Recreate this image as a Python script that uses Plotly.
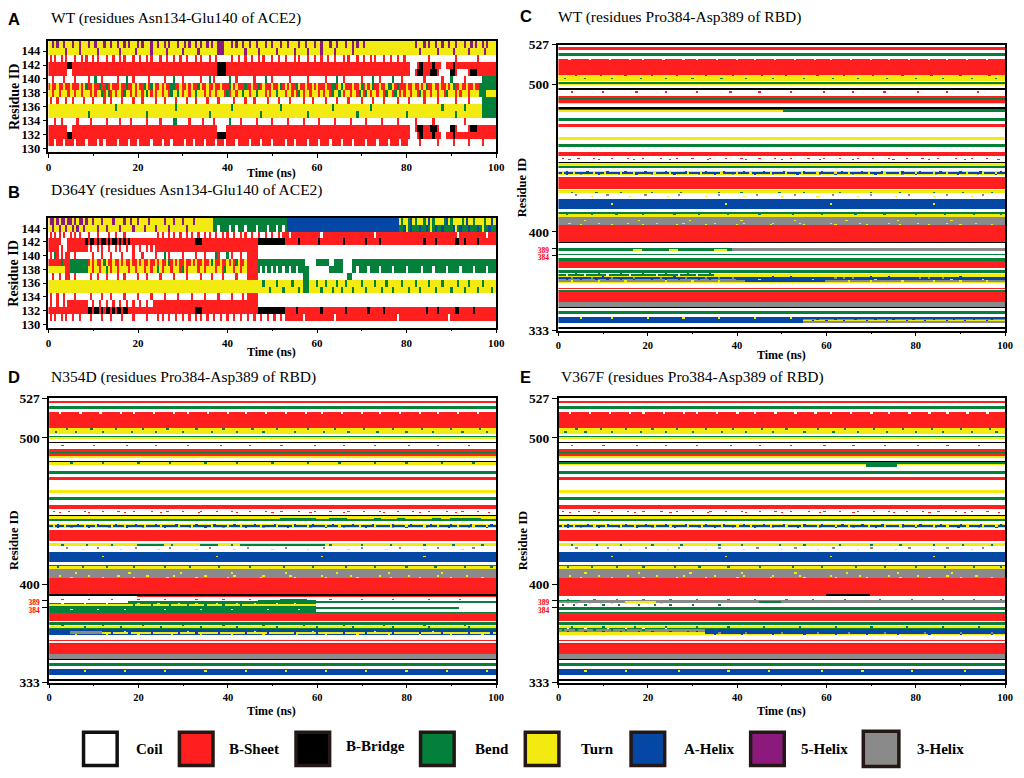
import numpy as np
import plotly.graph_objects as go

# ---------------- categories / colours ----------------
STATES = ["Coil", "B-Sheet", "B-Bridge", "Bend", "Turn", "A-Helix", "5-Helix", "3-Helix"]
CODES = ["C", "E", "B", "S", "T", "H", "I", "G"]
COLORS = ["#FFFFFF", "#FF1F1F", "#000000", "#03803A", "#F3EA12", "#0547A5", "#8C1A7C", "#8A8A8A"]

# simulation frames (ns)
time_ns = np.round(np.arange(0, 100.001, 0.5), 1)

# ---------------- Panel A : WT, ACE2 residues 130-145 ----------------
a_bands = [(130, 130, "C"), (131, 131, "C"), (132, 133, "E"), (134, 134, "C"), (135, 136, "T"),
           (137, 137, "C"), (138, 138, "T"), (139, 139, "E"), (140, 140, "C"), (141, 142, "E"),
           (143, 143, "C"), (144, 145, "T")]
a_segments = [
    (145, 38, 39.5, "I"), (144, 38, 39.5, "I"),
    (142, 4.5, 5.5, "B"), (142, 38, 40, "B"), (142, 81, 82.5, "C"), (142, 83, 84, "B"),
    (142, 86, 86.5, "B"), (142, 88, 89, "C"), (142, 90.5, 91, "B"),
    (141, 4.5, 5.5, "C"), (141, 38, 40, "B"), (141, 81, 82, "C"), (141, 82.5, 84, "B"),
    (141, 85.5, 87, "B"), (141, 87.5, 90, "C"), (141, 90, 91, "B"), (141, 91.5, 94, "C"), (141, 94.5, 96, "B"),
    (140, 97, 100, "S"), (139, 96.5, 100, "S"), (138, 96.5, 98, "S"), (138, 98, 100, "T"),
    (137, 97, 100, "S"), (136, 97, 100, "S"), (135, 97, 100, "S"),
    (133, 4.5, 5.5, "C"), (133, 38, 40, "C"), (133, 81, 82, "C"), (133, 82.5, 84, "B"),
    (133, 85.5, 87, "B"), (133, 87.5, 90, "C"), (133, 90, 91, "B"), (133, 91.5, 94, "C"), (133, 94.5, 96, "B"),
    (132, 4.5, 5.5, "B"), (132, 38, 40, "B"), (132, 81, 82.5, "C"), (132, 83, 84, "B"),
    (132, 86, 86.5, "B"), (132, 88, 89, "C"), (132, 90.5, 91, "B"),
    (131, 0, 80.5, "E"),
]
a_flecks = [
    (145, "I", [1, 2, 3.5, 5.5, 7, 9, 10.5, 12.5, 14, 15.5, 17, 18, 20, 21, 23, 24.5, 26, 27, 29, 30.5,
                31.5, 33, 34, 35.5, 36.5, 41, 42, 43.5, 45, 46.5, 48.5, 50, 52, 53.5, 56, 57.5, 59.5,
                61, 63, 64.5, 66.5, 68, 69, 70.5, 82, 84, 85, 86.5, 88, 89.5, 91, 93, 94.5, 95.5,
                97, 98]),
    (144, "I", [4, 7, 11, 16, 19.5, 23, 26.5, 30, 33.5, 44, 47, 51, 55, 58, 61, 64, 68, 83, 87, 90.5,
                94, 97.5]),
    (143, "E", [0.5, 1.5, 3, 4, 6, 7.5, 8.5, 10, 11, 13, 14.5, 16, 17, 19, 20.5, 22, 23, 25, 26.5, 28,
                29.5, 31, 33, 34, 36, 37.5, 41, 42.5, 44, 45.5, 47, 48, 50, 51.5, 53, 55, 56, 58, 59.5,
                61, 62.5, 64, 66, 67, 69, 70.5, 72, 73, 75, 76.5, 78, 79.5, 85, 91, 96]),
    (140, "E", [1, 3.5, 6, 9, 12, 15.5, 19, 22.5, 26, 30, 34, 37, 42, 46, 50, 54, 58, 62, 66, 70, 74,
                79, 84, 88, 93]),
    (140, "S", [10.5, 17.5, 28, 36, 40.5, 48.5, 64.5, 72.5, 77, 90]),
    (139, "T", [0.5, 2, 3.5, 5, 7, 8, 10, 11.5, 13, 14, 16, 17.5, 19, 20, 22, 23.5, 25, 26, 28, 29.5,
                31, 32, 34, 35.5, 37, 38.5, 41, 42, 44, 45.5, 47, 48, 50, 51.5, 53, 54, 56, 57.5, 59,
                60, 62, 63.5, 65, 66, 68, 69.5, 71, 72, 74, 75.5, 77, 78, 80, 81.5, 83, 84, 86, 87.5,
                89, 90, 92, 93.5, 95]),
    (139, "S", [8.5, 11.5, 13, 17.5, 21.5, 23, 27.5, 28, 33.5, 40.5, 44, 47, 52, 55.5, 63.5, 64, 65.5,
                70, 72.5, 76, 76.5, 78, 84.5, 90.5]),
    (138, "E", [1, 2.5, 4.5, 6, 7.5, 9.5, 10.5, 12.5, 14, 15, 16.5, 18.5, 19.5, 21, 23, 24, 25.5, 27,
                29, 30, 31.5, 33, 35, 36, 37.5, 39.5, 40.5, 42, 43.5, 45, 46.5, 48.5, 49.5, 51, 53,
                54.5, 55.5, 57, 58.5, 60.5, 61.5, 63, 66, 67.5, 69, 70.5, 72, 73.5, 75, 77, 78.5,
                79.5, 81, 82.5, 84, 85.5, 87, 88.5, 91, 92, 94]),
    (138, "S", [12, 13.5, 17, 22, 27.5, 29, 33, 40, 43.5, 46.5, 51, 56, 63.5, 65, 69.5, 71, 75.5,
                77.5, 83, 89]),
    (137, "E", [0.5, 2, 4, 5.5, 8, 10, 12.5, 14, 16.5, 19, 21, 24, 26, 28.5, 31, 33, 35.5, 38, 41.5,
                44, 46, 49, 51.5, 54, 57, 59, 62, 64.5, 67, 70, 72.5, 75, 78, 80.5, 84, 87, 91, 94]),
    (136, "S", [15, 28.5, 41, 52, 63.5, 72, 88, 93]),
    (135, "S", [9, 22, 36, 47.5, 58, 69, 80, 91]),
    (134, "E", [1.5, 3, 6.5, 9.5, 13, 16, 18.5, 22, 25, 31.5, 34.5, 37, 43, 46.5, 50, 53.5, 57, 60.5,
                64, 67.5, 71, 74.5, 78, 82, 86, 93]),
    (134, "S", [28, 28.5, 40.5]),
    (131, "C", [1.5, 3.5, 6, 8.5, 11, 12.5, 15.5, 18, 20, 23, 25.5, 27.5, 30.5, 32.5, 35, 37.5, 39.5,
                42, 45, 47.5, 50, 53, 55, 58, 60.5, 63, 65.5, 68, 71, 73.5, 76, 78.5]),
    (131, "E", [83, 87, 90.5, 94, 97]),
]

# ---------------- Panel B : D364Y, ACE2 residues 130-145 ----------------
b_bands = a_bands
b_segments = [
    (145, 37, 53.5, "S"), (145, 53.5, 78.5, "H"), (145, 78.5, 100, "T"),
    (144, 37, 53.5, "S"), (144, 53.5, 78.5, "H"), (144, 78.5, 100, "S"),
    (143, 53, 100, "E"),
    (142, 3, 4.5, "C"), (142, 33, 34.5, "B"), (142, 47, 53, "B"),
    (141, 2.5, 4.5, "C"), (141, 9, 24, "C"), (141, 47, 100, "C"),
    (140, 4, 5, "E"), (140, 44.5, 47, "E"),
    (139, 5, 9, "S"), (139, 47, 57.5, "S"), (139, 57.5, 60, "C"), (139, 60, 63, "S"),
    (139, 63, 64, "C"), (139, 64, 66, "S"), (139, 66, 68, "C"), (139, 68, 100, "S"),
    (138, 4, 5, "E"), (138, 5, 9, "S"), (138, 44.5, 47, "E"), (138, 47, 100, "S"),
    (138, 58.5, 63, "C"), (138, 66, 68, "C"),
    (137, 4, 5, "E"), (137, 44.5, 47, "E"), (137, 57, 58.5, "S"), (137, 67, 68, "S"),
    (136, 57, 58.5, "S"), (135, 57, 58.5, "S"),
    (134, 44.5, 47, "E"),
    (133, 0, 4.5, "C"), (133, 9, 24, "C"), (133, 47, 100, "C"),
    (132, 33, 34.5, "B"), (132, 47, 53, "B"),
    (131, 53, 100, "E"),
]
b_flecks = [
    (145, "I", [0.5, 1, 2, 3, 3.5, 4.5, 5, 6, 7, 7.5, 8.5, 10, 12, 14.5, 17, 18.5, 20, 22.5, 26, 28,
                30, 32.5]),
    (144, "I", [1, 2.5, 4, 5.5, 6.5, 8, 11, 13, 16, 19, 21.5, 24, 27, 31]),
    (144, "C", [38, 40.5, 42, 44, 46.5, 49, 51, 52.5]),
    (145, "S", [79, 80.5, 82, 84, 86, 88.5, 90, 92.5, 95, 97.5]),
    (145, "H", [81, 85, 89, 93.5, 99]),
    (144, "H", [79.5, 81, 83, 84.5, 86.5, 88, 90.5, 92, 94, 96, 98.5]),
    (144, "T", [80, 85.5, 91, 97]),
    (143, "E", [0.5, 1.5, 2.5, 3.5, 5, 6, 7, 9, 11, 13.5, 15, 17, 24.5, 25.5, 27, 28, 29.5, 31, 32,
                33.5, 35, 36, 37.5, 39, 40, 41.5, 43, 44, 45.5, 47, 48.5, 50, 51.5, 52.5]),
    (143, "C", [54, 61, 73, 91.5, 98]),
    (142, "B", [8.5, 9.5, 10, 11, 12, 12.5, 13.5, 14.5, 15, 16, 17, 18, 56, 60.5, 66, 71, 74, 84,
                86.5, 91, 91.5, 93, 96]),
    (141, "E", [0.5, 1.5, 3, 9.5, 11, 12, 13.5, 15, 16, 17.5, 19, 20.5, 22, 23]),
    (140, "E", [0.5, 2, 3, 6, 10, 12, 14, 16.5, 19, 21, 24, 27, 30, 33, 35, 38, 41, 43]),
    (140, "S", [1.5, 26, 37.5, 40]),
    (139, "T", [9.5, 10.5, 12, 13, 14.5, 16, 17, 18.5, 20, 21, 22.5, 24, 25, 26.5, 28, 29, 30.5, 32,
                33, 34.5, 36, 37, 38.5, 40, 41, 42.5, 44]),
    (139, "S", [3, 12.5, 27, 36.5, 42]),
    (138, "E", [10, 11.5, 14, 15.5, 18, 19.5, 21.5, 23, 25.5, 27.5, 29.5, 31, 33.5, 35, 37.5, 39,
                41.5, 43]),
    (138, "S", [13, 24.5, 30, 39.5]),
    (138, "C", [47.5, 48.5, 50, 51, 52.5, 54, 55.5, 69, 71.5, 74, 77, 80, 83.5, 86, 89, 92, 95, 98]),
    (137, "E", [1, 2.5, 6, 9.5, 11, 13, 15.5, 17, 20, 22, 25, 28, 31, 34, 36.5, 39, 42]),
    (136, "S", [48, 51, 54.5, 60, 62, 64.5, 66.5, 70, 73, 75.5, 79, 82, 85, 88, 91.5, 94, 97]),
    (135, "S", [49.5, 52.5, 56, 61, 63.5, 65.5, 68, 71, 74.5, 77, 80.5, 83, 86.5, 90, 93, 96, 99]),
    (134, "E", [0.5, 2, 3.5, 6, 9.5, 12, 14, 17, 20, 23, 26, 29, 32, 35, 38, 41, 43.5]),
    (133, "E", [0.5, 2, 3.5, 10, 11.5, 13, 14.5, 16, 17.5, 19, 20.5, 22, 23.5]),
    (132, "B", [9, 9.5, 10.5, 11, 12, 13, 13.5, 14.5, 15.5, 16, 17, 17.5, 55.5, 61, 66.5, 71.5, 75,
                84.5, 87, 91, 91.5, 95]),
    (131, "E", [0.5, 1.5, 3, 4, 5.5, 7, 9.5, 12, 14, 16.5, 19, 22, 24.5, 25.5, 27, 28.5, 30, 31.5,
                33, 34, 35.5, 37, 38.5, 40, 41.5, 43, 44.5, 46, 47.5, 49, 50.5, 52]),
    (131, "C", [57, 64, 78, 89.5]),
]

# ---------------- RBD residues 333-527 (panels C, D, E) ----------------
rbd_bands = [
    (526, 527, "C"), (524, 525, "E"), (522, 523, "C"), (520, 521, "S"), (518, 519, "C"), (507, 517, "E"),
    (504, 506, "T"), (503, 503, "T"), (502, 502, "C"), (501, 501, "S"), (500, 500, "T"), (498, 499, "C"),
    (497, 497, "B"), (493, 496, "C"), (491, 492, "E"), (490, 490, "S"), (488, 489, "E"), (487, 487, "T"),
    (485, 486, "C"), (484, 484, "B"), (483, 483, "S"), (482, 482, "T"), (478, 481, "C"), (476, 477, "S"),
    (474, 475, "C"), (472, 473, "E"), (465, 471, "C"), (463, 464, "T"), (460, 462, "C"), (458, 459, "S"),
    (455, 457, "C"), (452, 454, "E"), (448, 451, "C"), (447, 447, "B"), (445, 446, "T"), (444, 444, "S"),
    (442, 443, "C"), (441, 441, "T"), (440, 440, "H"), (439, 439, "T"), (438, 438, "C"), (430, 437, "E"),
    (429, 429, "C"), (427, 428, "T"), (423, 426, "C"), (416, 422, "H"), (414, 415, "C"), (413, 413, "S"),
    (411, 412, "T"), (405, 410, "G"), (394, 404, "E"), (393, 393, "B"), (390, 392, "C"), (388, 389, "S"),
    (386, 387, "C"), (385, 385, "S"), (383, 384, "C"), (381, 382, "S"), (376, 380, "E"), (375, 375, "C"),
    (373, 374, "S"), (370, 372, "T"), (366, 369, "H"), (363, 365, "C"), (362, 362, "E"), (361, 361, "C"),
    (360, 360, "S"), (353, 359, "E"), (350, 352, "G"), (349, 349, "B"), (347, 348, "C"), (345, 346, "S"),
    (343, 344, "C"), (339, 342, "H"), (336, 338, "C"), (335, 335, "B"), (333, 334, "C"),
]
rbd_flecks = [
    (517, "C", [2.5, 7, 11.5, 16, 19, 23.5, 28, 31, 35.5, 40, 44, 48.5, 53, 57.5, 61, 65.5, 70, 74,
                78.5, 83, 87, 91.5, 96]),
    (506, "S", [4, 9.5, 15, 21, 26.5, 33, 39, 45.5, 51, 58, 64, 70.5, 77, 83.5, 90, 96.5]),
    (504, "S", [1.5, 6, 12, 18.5, 24, 30, 36.5, 42, 48, 55, 61.5, 67, 73.5, 80, 86, 92.5, 98]),
    (495, "E", [3, 10, 17.5, 24, 31, 38.5, 45, 52, 59.5, 66, 73, 80.5, 87, 94]),
    (450, "E", [1, 4.5, 8, 12, 15.5, 19, 23, 26.5, 30, 34, 37.5, 41, 45, 48.5, 52, 56, 59.5, 63, 67,
                70.5, 74, 78, 81.5, 85, 89, 92.5, 96]),
    (449, "E", [2.5, 9, 17, 25, 33.5, 42, 50, 58.5, 66, 75, 83, 91, 98.5]),
    (441, "H", [2, 6.5, 11, 15, 19.5, 24, 28.5, 33, 37, 41.5, 46, 50.5, 55, 59, 63.5, 68, 72.5, 77,
                81, 85.5, 90, 94.5, 99]),
    (440, "T", [1, 3.5, 8, 10.5, 14, 17, 21.5, 25, 29, 32, 36.5, 40, 43, 47.5, 51, 54.5, 58, 62, 65,
                69.5, 73, 76.5, 80, 84, 87, 91.5, 95, 98]),
    (439, "G", [5, 13.5, 21, 31.5, 39, 48, 58.5, 66, 77, 84.5, 94]),
    (439, "H", [2, 9, 17.5, 26, 35, 44, 53.5, 62, 71, 80, 89.5, 98]),
    (427, "S", [3, 8.5, 14, 21, 27.5, 36, 41, 49.5, 55, 63, 70, 76.5, 84, 90.5, 97]),
    (425, "G", [4, 11, 19.5, 27, 36, 44.5, 53, 61.5, 70, 78.5, 87, 95]),
    (424, "T", [7.5, 16, 24.5, 33, 41.5, 50, 58, 67, 75.5, 84, 92.5]),
    (419, "T", [12, 37.5, 61, 84]),
    (412, "S", [2, 7.5, 13, 19, 26, 31.5, 38, 45, 52.5, 59, 66.5, 73, 80, 86.5, 93, 99]),
    (408, "T", [6, 18, 29.5, 41, 53, 64.5, 76, 88]),
    (406, "T", [2.5, 9, 15.5, 22, 28, 35, 41.5, 48, 54, 61, 67.5, 74, 80.5, 87, 93.5]),
    (405, "T", [5, 12, 19, 26.5, 33, 40, 47.5, 55, 62, 69, 76.5, 83, 90, 97]),
]

# Panel C : WT RBD
c_segments = [
    (482, 50.5, 100, "S"),
    (389, 0, 39, "S"), (389, 39, 100, "G"), (388, 0, 39, "S"), (388, 17, 19, "T"), (388, 25, 27, "T"),
    (388, 35, 38, "T"), (388, 39, 100, "G"),
    (372, 0, 100, "C"), (371, 0, 35, "S"), (371, 35, 100, "T"), (370, 0, 100, "T"), (369, 0, 100, "H"),
    (368, 0, 40, "G"), (368, 40, 100, "H"), (367, 0, 100, "G"), (367, 42, 60, "H"), (366, 0, 100, "T"),
    (341, 55, 100, "G"), (340, 55, 100, "T"), (339, 55, 100, "G"),
]
c_flecks = [
    (369, "G", [3, 7.5, 12, 17, 23, 28.5, 33, 36, 39, 62, 64, 66, 81, 83, 86]),
    (368, "H", [2, 5, 8.5, 11, 14, 17, 21, 24, 27, 31.5, 34]),
    (368, "T", [45, 57, 71, 88, 95]),
    (367, "T", [3, 9, 15, 24, 30, 36, 65, 70, 77, 84, 90, 96]),
    (370, "H", [10, 26, 48, 52, 70, 74, 90]),
    (371, "C", [2, 6, 11, 16, 22, 27, 31]),
    (372, "S", [4, 9, 14, 19, 24, 29, 34]),
    (341, "H", [58, 62, 66.5, 71, 75, 79.5, 84, 88.5, 93, 97]),
    (340, "H", [57, 60, 64, 69, 73.5, 78, 82, 87, 91, 96]),
    (342, "T", [5, 12, 20, 28, 36, 44, 52]),
]

# Panel D : N354D RBD
d_segments = [
    (392, 20, 100, "E"), (389, 47, 60, "S"), (390, 52, 58, "S"), (388, 18, 48, "S"), (388, 64, 66, "S"),
    (387, 0, 60, "S"), (386, 0, 60, "T"), (385, 60, 100, "C"), (384, 0, 92, "S"), (383, 0, 60, "S"),
    (382, 60, 100, "C"), (388, 0, 18, "C"), (389, 0, 47, "C"), (389, 60, 100, "C"),
    (372, 0, 100, "C"), (371, 0, 100, "T"), (370, 0, 100, "S"), (368, 5, 12, "G"), (367, 5, 12, "G"),
    (367, 12, 100, "T"),
    (445, 52, 60, "S"), (445, 63, 67, "S"), (445, 73, 74.5, "S"), (445, 78, 80, "S"), (445, 86, 88, "S"),
    (445, 90, 97, "S"),
    (427, 20, 26, "S"), (427, 34, 38, "S"), (427, 43, 62, "S"),
    (483, 0, 100, "T"),
]
d_flecks = [
    (386, "S", [19, 23, 27, 31, 35, 39, 43]),
    (387, "T", [20, 24.5, 29, 33, 37.5, 42, 46]),
    (387, "C", [3, 8, 13, 51, 55]),
    (383, "C", [5, 11, 17, 26, 34, 41, 49, 56]),
    (390, "E", [3, 9, 14, 20, 26, 33, 39, 45, 63, 70, 77, 85, 92]),
    (367, "H", [14, 18, 23, 29, 33, 38, 44, 49, 55, 60, 66, 71, 77, 83, 88, 94, 99]),
    (366, "T", [6, 13, 20, 27.5, 34, 41, 48, 55.5, 62, 69, 76, 83, 90, 97]),
    (368, "T", [17, 31, 46, 59, 73, 86]),
    (371, "S", [8, 16, 25, 34, 42, 51, 60, 68, 77, 85, 94]),
    (372, "S", [3, 12, 21, 30, 39, 48, 57, 66, 75, 84, 93]),
    (483, "S", [5, 12, 20, 27, 35, 42, 50, 58, 65, 73, 80, 88, 95]),
    (341, "T", [8, 17, 26, 35, 44, 53, 62, 71, 80, 89, 98]),
]

# Panel E : V367F RBD
e_segments = [
    (393, 0, 60, "E"), (393, 70, 100, "E"),
    (389, 0, 100, "G"), (388, 0, 100, "G"), (389, 0, 5, "S"), (388, 15, 22, "T"), (388, 45, 50, "S"),
    (385, 0, 100, "C"), (384, 0, 100, "S"), (383, 0, 100, "S"), (382, 0, 100, "C"),
    (372, 0, 100, "C"), (371, 0, 100, "T"), (370, 0, 100, "S"), (369, 0, 33, "G"), (368, 0, 33, "G"),
    (367, 0, 33, "T"), (366, 0, 100, "T"),
    (482, 69, 76, "S"), (481, 69, 76, "S"),
]
e_flecks = [
    (387, "T", [2, 4, 7, 9.5, 12, 15, 17.5, 20, 23]),
    (386, "S", [1, 3.5, 6, 10, 13.5, 18, 21.5, 25, 30, 36]),
    (390, "E", [2, 8, 13, 19, 25, 31, 38, 44, 51, 57, 64, 72, 79, 86, 93, 99]),
    (369, "S", [1, 4, 8, 12, 15, 19]),
    (368, "H", [2, 6, 10, 14, 18, 21, 25, 29, 31]),
    (367, "G", [36, 42, 50, 58, 65, 73, 82, 90, 97]),
    (366, "H", [35, 41, 48, 55, 62, 69, 76, 83, 90, 97]),
    (371, "S", [3, 10, 17, 24, 31, 38, 46, 54, 62, 70, 78, 86, 94]),
    (370, "C", [2, 6, 11, 15, 19, 24]),
    (341, "T", [6, 15, 27, 38, 47, 59, 68, 79, 91]),
]

# ---------------- build matrices ----------------
IDX = {c: i for i, c in enumerate(CODES)}


def build(lo, hi, bands, segments, flecks):
    res = np.arange(lo, hi + 1)
    z = np.zeros((len(res), len(time_ns)), dtype=int)
    for r0, r1, c in bands:
        z[r0 - lo:r1 - lo + 1, :] = IDX[c]
    for r, t0, t1, c in segments:
        m = (time_ns >= t0) & ((time_ns < t1) | (t1 >= 100))
        z[r - lo, m] = IDX[c]
    for r, c, times in flecks:
        for t in times:
            z[r - lo, int(round(t * 2))] = IDX[c]
    return res, z


panels = [
    ("A", build(130, 145, a_bands, a_segments, a_flecks)),
    ("B", build(130, 145, b_bands, b_segments, b_flecks)),
    ("C", build(333, 527, rbd_bands, c_segments, rbd_flecks + c_flecks)),
    ("D", build(333, 527, rbd_bands, d_segments, rbd_flecks + d_flecks)),
    ("E", build(333, 527, rbd_bands, e_segments, rbd_flecks + e_flecks)),
]

colorscale = []
for i, col in enumerate(COLORS):
    colorscale.append([i / len(COLORS), col])
    colorscale.append([(i + 1) / len(COLORS), col])

W, H = 1024, 778


def px(x):
    return x / W


def py(y):
    return 1 - y / H


SERIF = "Liberation Serif"
SANS = "Liberation Sans"

# panel geometry in pixels: (left, right, top, bottom)
geom = {
    "A": (46, 499, 34.3, 148),
    "B": (46, 499, 215, 327),
    "C": (562, 1014, 38.3, 330),
    "D": (46.7, 499, 399, 689),
    "E": (562.3, 1014, 399, 689),
}

fig = go.Figure()
layout = dict(width=W, height=H, margin=dict(l=0, r=0, t=0, b=0), paper_bgcolor="white",
              plot_bgcolor="white", showlegend=False)

red_lbl = "<span style='color:#FF0000;font-size:7.5px'>%d</span>"

for k, (name, (res, z)) in enumerate(panels):
    n = "" if k == 0 else str(k + 1)
    fig.add_trace(go.Heatmap(x=time_ns, y=res, z=z, zmin=-0.5, zmax=7.5, colorscale=colorscale,
                             showscale=False, xaxis="x" + n, yaxis="y" + n, hoverinfo="skip"))
    l, r, t, b = geom[name]
    small = name in ("A", "B")
    xa = dict(domain=[px(l), px(r)], anchor="y" + n, range=[0, 100], tickvals=[0, 20, 40, 60, 80, 100],
              ticks="outside", ticklen=4, tickwidth=1.2, tickcolor="black",
              minor=dict(dtick=10, ticks="outside", ticklen=2, tickcolor="black"),
              showline=True, mirror=True, linecolor="black", linewidth=1.5,
              showgrid=False, zeroline=False,
              tickfont=dict(family=SERIF, size=11 if small else 10.5, color="black", weight="bold"))
    if small:
        ya = dict(domain=[py(b), py(t)], anchor="x" + n, range=[129.5, 145.5],
                  tickvals=list(range(130, 145, 2)), ticks="outside", ticklen=4, tickwidth=1.2,
                  tickcolor="black",
                  tickfont=dict(family=SERIF, size=12.5, color="black", weight="bold"))
    else:
        ya = dict(domain=[py(b), py(t)], anchor="x" + n, range=[333, 527],
                  tickvals=[333, 384, 389, 400, 500, 527],
                  ticktext=["333", red_lbl % 384, red_lbl % 389, "400", "500", "527"],
                  ticks="outside", ticklen=5, tickwidth=1.2, tickcolor="black",
                  tickfont=dict(family=SERIF, size=13.5, color="black", weight="bold"))
    ya.update(showline=True, mirror=True, linecolor="black", linewidth=1.5, showgrid=False, zeroline=False)
    layout["xaxis" + n] = xa
    layout["yaxis" + n] = ya

fig.update_layout(**layout)

# ---------------- text ----------------
titles = [
    ("A", 3, 12.5, "WT (residues Asn134-Glu140 of ACE2)", 47, 11),
    ("B", 3, 188.5, "D364Y (residues Asn134-Glu140 of ACE2)", 47, 187),
    ("C", 521, 9.5, "WT (residues Pro384-Asp389 of RBD)", 560, 10),
    ("D", 3, 377, "N354D (residues Pro384-Asp389 of RBD)", 47, 377),
    ("E", 521, 377, "V367F (residues Pro384-Asp389 of RBD)", 563, 377),
]
for letter, lx, ly, txt, tx, ty in titles:
    fig.add_annotation(x=px(lx), y=py(ly), xref="paper", yref="paper", text=letter, showarrow=False,
                       xanchor="left", yanchor="middle",
                       font=dict(family=SANS, size=16.5, color="black", weight="bold"))
    fig.add_annotation(x=px(tx), y=py(ty), xref="paper", yref="paper", text=txt, showarrow=False,
                       xanchor="left", yanchor="middle", font=dict(family=SERIF, size=15.5, color="black"))

ylabels = [(11, 91, 14), (11, 271, 14), (526, 184, 12.5), (10.5, 544, 12.5), (526, 544, 12.5)]
for x, y, s in ylabels:
    fig.add_annotation(x=px(x), y=py(y), xref="paper", yref="paper", text="Residue ID", textangle=-90,
                       showarrow=False, xanchor="center", yanchor="middle",
                       font=dict(family=SERIF, size=s, color="black", weight="bold"))

xlabels = [(272, 169), (272, 352), (788, 355), (272, 718), (788, 718)]
for x, y in xlabels:
    fig.add_annotation(x=px(x), y=py(y), xref="paper", yref="paper", text="Time (ns)", showarrow=False,
                       xanchor="center", yanchor="middle",
                       font=dict(family=SERIF, size=12, color="black", weight="bold"))

# ---------------- legend ----------------
legend_box_x = [80, 177, 295, 421, 527, 634, 755, 869]
legend_label_x = [132.7, 226.7, 345, 476, 582.7, 686.7, 805.7, 922.7]
for i, (state, col) in enumerate(zip(STATES, COLORS)):
    bx = legend_box_x[i]
    w = 39 if state == "3-Helix" else 37
    y0, y1 = (737, 776) if state == "3-Helix" else (738, 775)
    fig.add_shape(type="rect", xref="paper", yref="paper",
                  x0=px(bx + 1.5), x1=px(bx + w - 1.5), y0=py(y1 - 1.5), y1=py(y0 + 1.5),
                  fillcolor=col, line=dict(color="#111111" if state == "Coil" else "#231815", width=3.5))
    fig.add_annotation(x=px(legend_label_x[i]), y=py(754 if state == "B-Bridge" else 756.5),
                       xref="paper", yref="paper", text=state, showarrow=False,
                       xanchor="left", yanchor="middle",
                       font=dict(family=SERIF, size=15, color="black", weight="bold"))

fig.write_html("out.html", config={"displayModeBar": False},
               post_script="document.body.style.margin='0px';document.body.style.overflow='hidden';")
